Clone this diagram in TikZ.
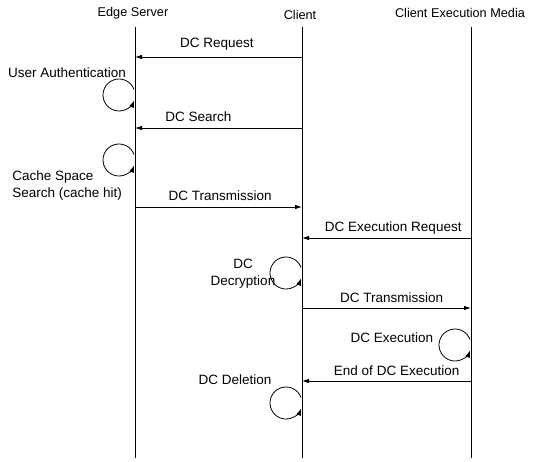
\documentclass[tikz,border=0pt]{standalone}
\usepackage{fontspec}
\setmainfont{Liberation Sans}
\usetikzlibrary{arrows.meta}

\tikzset{every picture/.style={line width=0.8pt}}
\tikzset{
  msg/.style={-{Latex[length=7pt,width=4.5pt]}},
  selfloop/.style={-{Latex[length=7pt,width=5pt]}},
  lbl/.style={font=\fontsize{13.5}{17}\selectfont, inner sep=1pt},
  msglbl/.style={lbl, anchor=base, yshift=#1},
  msglbl/.default={6pt}, % baseline height above the arrow
  head/.style={font=\fontsize{12.7}{15}\selectfont},
}
\def\xe{135}% edge server
\def\xc{302}% client
\def\xm{471}% execution media
\def\r{16}

\begin{document}
\begin{tikzpicture}[x=1pt, y=-1pt]
  \useasboundingbox (0,0) rectangle (535,462);
  % headers
  \node[head] (edge)   at (133,13) {Edge Server};
  \node[head] (client) at (300,15) {Client};
  \node[head] (media)  at (460,13) {Client Execution Media};
  % lifelines
  \foreach \n/\x in {e/\xe, c/\xc, m/\xm} {
      \coordinate (\n-top) at (\x,27);
      \coordinate (\n-bot) at (\x,458);
      \draw (\n-top) -- (\n-bot);
  };
  % message rows on every lifeline
  \foreach \y [count=\i] in {57,128,207,238,308,381} {
      \coordinate (e\i) at (\xe,\y);
      \coordinate (c\i) at (\xc,\y);
      \coordinate (m\i) at (\xm,\y);
  };
  % messages
  \draw[msg] (c1) -- node[msglbl=9pt, pos=.51] {DC Request} (e1);
  \draw[msg] (c2) -- node[msglbl, pos=.62] {DC Search} (e2);
  \draw[msg] (e3) -- node[msglbl, pos=.51] {DC Transmission} (c3);
  \draw[msg] (m4) -- node[msglbl, pos=.46] {DC Execution Request} (c4);
  \draw[msg] (c5) -- node[msglbl, pos=.53] {DC Transmission} (m5);
  \draw[msg] (m6) -- node[msglbl, pos=.44] {End of DC Execution} (c6);
  % self loops | left of the lifeline
  \foreach \cx/\cy in {\xe/95, \xe/160, \xc/273, \xm/345, \xc/403} {
      \draw[selfloop] (\cx-\r,\cy) ++(-20:\r) arc[start angle=-20, end angle=-340, radius=\r];
  };
  % loop labels
  \node[lbl] (auth) at (67,73) {User Authentication};
  \node[lbl, align=left, anchor=west] (cache) at (11,186) {Cache Space\\Search (cache hit)};
  \node[lbl, align=center] (decrypt) at (243,274) {DC\\Decryption};
  \node[lbl] (exec) at (392,338) {DC Execution};
  \node[lbl] (delete) at (235,380) {DC Deletion};
\end{tikzpicture}
\end{document}
